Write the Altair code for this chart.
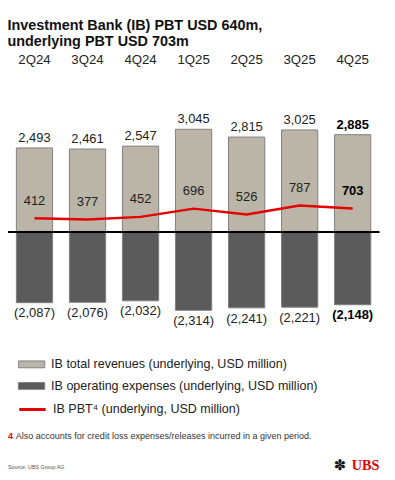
import altair as alt
import pandas as pd

quarters = ["2Q24", "3Q24", "4Q24", "1Q25", "2Q25", "3Q25", "4Q25"]
revenues = [2493, 2461, 2547, 3045, 2815, 3025, 2885]
expenses = [-2087, -2076, -2032, -2314, -2241, -2221, -2148]
pbt = [412, 377, 452, 696, 526, 787, 703]
highlight = [False, False, False, False, False, False, True]

REV = "IB total revenues (underlying, USD million)"
EXP = "IB operating expenses (underlying, USD million)"
PBT = "IB PBT\u2074 (underlying, USD million)"

FONT = "Liberation Sans"

df = pd.DataFrame({
    "q": quarters,
    "rev": revenues,
    "exp": expenses,
    "pbt": pbt,
    "bold": highlight,
    "zero": [0] * len(quarters),
})
df["rev_lbl"] = [f"{v:,}" for v in revenues]
df["exp_lbl"] = [f"({abs(v):,})" for v in expenses]
df["pbt_lbl"] = [f"{v:,}" for v in pbt]

bars_long = pd.DataFrame({
    "q": quarters * 2,
    "value": revenues + expenses,
    "zero": [0] * (2 * len(quarters)),
    "series": [REV] * len(quarters) + [EXP] * len(quarters),
})
line_df = pd.DataFrame({"q": quarters, "pbt": pbt, "series": [PBT] * len(quarters)})

xscale = alt.Scale(domain=quarters, paddingInner=0.317, paddingOuter=0.158)
x = alt.X("q:N", scale=xscale, sort=quarters,
          axis=alt.Axis(orient="top", title=None, ticks=False, domain=False,
                        labelAngle=0, labelFontSize=13.5, labelFont=FONT,
                        labelColor="#222222", labelPadding=7))
yscale = alt.Scale(domain=[-2841, 4696], nice=False, zero=False)

bars = alt.Chart(bars_long).mark_bar(stroke="#7f7f7f", strokeWidth=1).encode(
    x=x,
    y=alt.Y("value:Q", scale=yscale, axis=None),
    y2="zero:Q",
    fill=alt.Fill("series:N",
                  scale=alt.Scale(domain=[REV, EXP], range=["#bab5a6", "#5b5b5b"]),
                  legend=alt.Legend(title=None, orient="none", legendX=10, legendY=287,
                                    symbolType="M-1,-0.26H1V0.26H-1Z", symbolSize=729,
                                    symbolStrokeColor="#7f7f7f", symbolStrokeWidth=1,
                                    labelFontSize=12.8, labelFont=FONT, labelColor="#222222",
                                    labelOffset=6, clipHeight=20, rowPadding=2, padding=0,
                                    labelLimit=400)),
)

zero = alt.Chart(df).mark_rule(color="black", strokeWidth=1.2).encode(
    y=alt.Y("zero:Q", scale=yscale, axis=None), x=alt.value(0), x2=alt.value(379)
)

line = alt.Chart(line_df).mark_line(strokeWidth=2.5).encode(
    x=x,
    y=alt.Y("pbt:Q", scale=yscale, axis=None),
    stroke=alt.Stroke("series:N", scale=alt.Scale(domain=[PBT], range=["#e60000"]),
                      legend=alt.Legend(title=None, orient="none", legendX=10, legendY=333,
                                        symbolType="stroke", symbolSize=729, symbolStrokeWidth=3,
                                        labelFontSize=12.8, labelFont=FONT, labelColor="#222222",
                                        labelOffset=6, clipHeight=20, padding=0, labelLimit=400)),
)

def labels(field, lbl, dy, baseline):
    base = alt.Chart(df).encode(
        x=x,
        y=alt.Y(f"{field}:Q", scale=yscale, axis=None),
        text=f"{lbl}:N",
    )
    normal = base.transform_filter("!datum.bold").mark_text(
        dy=dy, baseline=baseline, fontSize=13.2, font=FONT, color="#222222")
    bold = base.transform_filter("datum.bold").mark_text(
        dy=dy, baseline=baseline, fontSize=13.2, font=FONT, color="#000000", fontWeight="bold")
    return [normal, bold]

rev_lbl = labels("rev", "rev_lbl", -3, "bottom")
exp_lbl = labels("exp", "exp_lbl", 5, "top")
pbt_lbl = labels("pbt", "pbt_lbl", -18, "middle")

note_num = alt.Chart(pd.DataFrame({"t": ["4"]})).mark_text(
    align="left", baseline="middle", fontSize=9.2, font=FONT, fontWeight="bold", color="#e60000"
).encode(x=alt.value(0), y=alt.value(370), text="t:N")
note = alt.Chart(pd.DataFrame({"t": ["Also accounts for credit loss expenses/releases incurred in a given period."]})).mark_text(
    align="left", baseline="middle", fontSize=9.2, font=FONT, color="#333333"
).encode(x=alt.value(8), y=alt.value(370), text="t:N")
source = alt.Chart(pd.DataFrame({"t": ["Source: UBS Group AG"]})).mark_text(
    align="left", baseline="middle", fontSize=5.5, font=FONT, color="#555555"
).encode(x=alt.value(0), y=alt.value(402), text="t:N")
ubs = alt.Chart(pd.DataFrame({"t": ["UBS"]})).mark_text(
    align="left", baseline="middle", fontSize=14.5, font="Liberation Serif", fontWeight="bold", color="#e60000"
).encode(x=alt.value(351), y=alt.value(401), text="t:N")
keys = alt.Chart(pd.DataFrame({"t": ["\u273d"]})).mark_text(
    align="center", baseline="middle", fontSize=15, font="DejaVu Sans", color="#111111"
).encode(x=alt.value(339), y=alt.value(400), text="t:N")

chart = alt.layer(
    bars, zero, line, *rev_lbl, *exp_lbl, *pbt_lbl, note_num, note, source, ubs, keys
).properties(
    width=379, height=260,
    padding={"left": 0, "top": 62, "right": 8, "bottom": 142},
    autosize=alt.AutoSizeParams(type="none"),
    title=alt.TitleParams(
        ["Investment Bank (IB) PBT USD 640m,", "underlying PBT USD 703m"],
        anchor="start", fontSize=14.7, fontWeight="bold", font=FONT, color="#111111",
        lineHeight=17, offset=4,
    ),
).configure_view(stroke=None)

chart.save("out.html", embed_options={"renderer": "svg", "actions": False})
